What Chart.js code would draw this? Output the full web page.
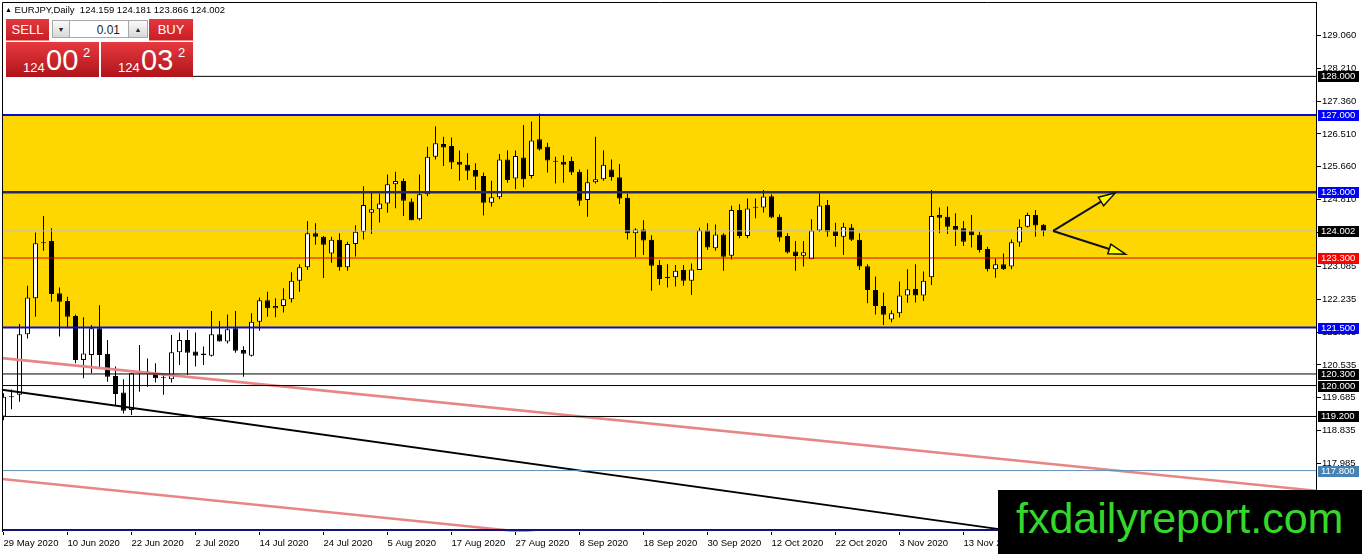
<!DOCTYPE html>
<html>
<head>
<meta charset="utf-8">
<script src="https://cdn.jsdelivr.net/npm/chart.js@4.4.0/dist/chart.umd.min.js"></script>
<style>
  html, body { margin: 0; padding: 0; background: #fff; }
  #wrap { position: relative; width: 1362px; height: 554px; overflow: hidden; font-family: "Liberation Sans", Arial, sans-serif; }
  #chart { position: absolute; left: 0; top: 0; }
  #title { position: absolute; left: 5px; top: 4px; font-size: 9.5px; color: #000; white-space: pre; line-height: 12px; }
  #title .tri { font-size: 7px; vertical-align: 1px; }
  #backdrop { position: absolute; left: 3px; top: 17px; width: 190px; height: 61px; background: #fff; }
  .btn { position: absolute; top: 19px; height: 21px; line-height: 21px; color: #fff; font-size: 13px; text-align: center;
         background: linear-gradient(#e2383d, #c81f25); border-bottom: 1px solid #f08a8d; }
  .spin { position: absolute; top: 20px; height: 18px; line-height: 18px; font-size: 7px; color: #222; text-align: center;
          background: linear-gradient(#fafafa, #d8d8d8); border: 1px solid #a8a8a8; box-sizing: border-box; }
  #lot { position: absolute; left: 70px; top: 20px; width: 58px; height: 18px; line-height: 18px; background: #fff; font-size: 12px;
         color: #222; text-align: right; padding-right: 8px; box-sizing: border-box; border-top: 1px solid #a8a8a8; border-bottom: 1px solid #a8a8a8; }
  .price { position: absolute; top: 42px; height: 35px; color: #fff; background: linear-gradient(#e63a3f, #b0131a); }
  .price .lo { position: absolute; top: 18px; font-size: 13px; }
  .price .hi { position: absolute; top: 2px; font-size: 29px; line-height: 32px; }
  .price .sup { position: absolute; top: 3px; font-size: 13px; }
  #logo { position: absolute; left: 998px; top: 490px; width: 364px; height: 64px; background: #000; color: #35d82a;
          font-size: 43px; line-height: 43px; padding: 7px 0 0 18px; box-sizing: border-box; white-space: nowrap; }
</style>
</head>
<body>
<div id="wrap">
  <canvas id="chart" width="1362" height="554"></canvas>
  <div id="title"></div>
  <div id="backdrop"></div>
  <div class="btn" style="left:6px;width:43px;">SELL</div>
  <div class="spin" style="left:52px;width:18px;">▼</div>
  <div id="lot">0.01</div>
  <div class="spin" style="left:128px;width:20px;">▲</div>
  <div class="btn" style="left:149px;width:44px;">BUY</div>
  <div class="price" id="sellPrice" style="left:6px;width:93px;"></div>
  <div class="price" id="buyPrice" style="left:101px;width:92px;"></div>
  <div id="logo">fxdailyreport.com</div>
</div>
<script>
// EURJPY daily, 29 May 2020 .. 27 Nov 2020 (one bar per trading day)
const symbolName = 'EURJPY,Daily';

const xTickBars = [0, 8, 16, 24, 32, 40, 48, 56, 64, 72, 80, 88, 96, 104, 112, 120];
const xTickLabels = ['29 May 2020', '10 Jun 2020', '22 Jun 2020', '2 Jul 2020', '14 Jul 2020', '24 Jul 2020',
    '5 Aug 2020', '17 Aug 2020', '27 Aug 2020', '8 Sep 2020', '18 Sep 2020', '30 Sep 2020',
    '12 Oct 2020', '22 Oct 2020', '3 Nov 2020', '13 Nov 2020'];
const yTickValues = [129.06, 128.21, 127.36, 126.51, 125.66, 124.81, 123.96, 123.085, 122.235,
    121.385, 120.535, 119.685, 118.835, 117.985];

const opens = [
    119.20, 119.71, 119.76, 121.33, 122.26, 123.68, 123.74, 122.39, 122.19, 121.80,
    120.66, 120.79, 121.48, 120.82, 120.25, 119.82, 119.37, 120.32, 120.36, 120.33,
    120.19, 120.16, 120.86, 121.18, 120.88, 120.79, 120.77, 121.33, 121.14, 121.48,
    120.92, 120.77, 121.65, 122.21, 122.00, 122.06, 122.23, 122.71, 123.06, 123.94,
    123.85, 123.42, 123.77, 123.06, 123.66, 123.98, 124.47, 124.56, 124.71, 125.21,
    125.29, 124.76, 124.30, 124.95, 125.92, 126.25, 126.20, 125.79, 125.71, 125.58,
    125.42, 124.73, 124.87, 125.85, 125.36, 125.90, 125.42, 126.37, 126.18, 125.80,
    125.79, 125.81, 125.53, 124.80, 125.26, 125.34, 125.59, 125.39, 124.86, 123.94,
    124.04, 123.77, 123.12, 122.79, 122.80, 122.99, 122.71, 122.99, 124.02, 123.55,
    123.91, 123.36, 124.54, 123.87, 124.60, 124.61, 124.90, 124.37, 123.87, 123.47,
    123.36, 123.27, 124.01, 124.67, 123.99, 123.85, 124.09, 123.77, 123.09, 122.47,
    122.06, 121.71, 121.87, 122.33, 122.50, 122.33, 122.80, 124.41, 124.37, 124.13,
    124.07, 123.99, 123.90, 123.53, 123.01, 123.14, 123.08, 123.70, 124.11, 124.41,
    124.159];
const highs = [
    119.80, 119.90, 121.59, 122.58, 123.96, 124.39, 124.07, 122.54, 122.30, 121.84,
    121.77, 121.57, 122.08, 121.18, 120.49, 120.16, 120.33, 121.05, 120.70, 120.58,
    120.32, 121.31, 121.37, 121.44, 121.37, 121.01, 121.93, 121.67, 121.84, 121.93,
    121.02, 121.87, 122.28, 122.43, 122.26, 122.52, 122.93, 123.14, 124.26, 124.20,
    123.87, 123.85, 123.94, 123.72, 124.15, 125.16, 125.02, 124.96, 125.46, 125.53,
    125.36, 124.84, 125.46, 126.18, 126.71, 126.44, 126.42, 126.08, 126.01, 125.75,
    125.51, 125.30, 125.99, 126.09, 126.08, 126.74, 126.83, 127.04, 126.28, 125.92,
    125.96, 125.92, 125.59, 125.59, 126.44, 126.09, 125.85, 125.73, 124.97, 124.07,
    124.28, 123.89, 123.25, 123.14, 123.12, 123.12, 123.16, 124.08, 124.20, 124.17,
    123.94, 124.65, 124.69, 124.84, 124.84, 125.06, 124.95, 124.43, 123.94, 123.74,
    123.74, 124.30, 124.97, 124.80, 124.21, 124.21, 124.18, 123.94, 123.14, 122.82,
    122.41, 121.95, 122.69, 123.01, 123.14, 122.95, 125.06, 124.61, 124.63, 124.46,
    124.26, 124.41, 123.98, 123.59, 123.29, 123.42, 123.78, 124.30, 124.47, 124.54,
    124.181];
const lows = [
    119.10, 119.39, 119.58, 121.22, 121.78, 123.49, 122.17, 121.27, 121.48, 120.58,
    120.19, 120.32, 120.45, 120.10, 119.50, 119.28, 119.24, 119.84, 119.97, 120.08,
    119.76, 120.08, 120.53, 120.27, 120.49, 120.53, 120.75, 121.14, 121.09, 120.85,
    120.23, 120.75, 121.42, 121.78, 121.77, 121.89, 122.15, 122.43, 122.99, 123.64,
    122.78, 123.18, 122.97, 122.97, 123.34, 123.78, 123.92, 124.22, 124.47, 124.59,
    124.39, 124.28, 124.27, 124.90, 125.85, 125.68, 125.60, 125.30, 125.32, 125.06,
    124.40, 124.63, 124.82, 125.25, 125.08, 125.13, 125.36, 126.08, 125.51, 125.23,
    125.25, 125.45, 124.65, 124.37, 125.23, 125.30, 125.30, 124.70, 123.78, 123.32,
    123.38, 122.45, 122.60, 122.54, 122.56, 122.58, 122.34, 122.99, 123.51, 123.49,
    122.97, 123.26, 123.81, 123.81, 124.33, 124.48, 124.33, 123.72, 123.42, 122.97,
    123.08, 123.27, 123.98, 123.85, 123.59, 123.38, 123.74, 122.99, 122.13, 121.84,
    121.57, 121.64, 121.76, 122.14, 122.15, 122.19, 122.60, 123.94, 123.92, 123.61,
    123.61, 123.57, 123.44, 122.95, 122.79, 122.99, 123.01, 123.59, 124.09, 123.85,
    123.866];
const closes = [
    119.71, 119.70, 121.33, 122.28, 123.68, 123.69, 122.37, 122.17, 121.78, 120.66,
    120.83, 121.48, 120.79, 120.23, 119.78, 119.35, 120.32, 120.36, 120.34, 120.19,
    120.19, 120.86, 121.18, 120.85, 120.77, 120.83, 121.33, 121.14, 121.46, 120.90,
    120.82, 121.65, 122.21, 122.00, 122.06, 122.23, 122.71, 123.06, 123.94, 123.85,
    123.64, 123.77, 123.06, 123.66, 123.98, 124.67, 124.56, 124.71, 125.21, 125.29,
    124.78, 124.28, 124.95, 125.92, 126.27, 126.16, 125.77, 125.71, 125.56, 125.40,
    124.73, 124.87, 125.85, 125.32, 125.94, 125.34, 126.34, 126.11, 125.82, 125.79,
    125.71, 125.51, 124.78, 125.26, 125.34, 125.71, 125.39, 124.84, 123.94, 124.04,
    123.75, 123.10, 122.76, 122.78, 122.97, 122.71, 123.00, 124.02, 123.57, 123.91,
    123.33, 124.54, 123.87, 124.58, 124.61, 124.89, 124.35, 123.83, 123.44, 123.35,
    123.45, 124.01, 124.66, 123.98, 123.87, 124.11, 123.77, 123.08, 122.47, 122.06,
    121.83, 121.87, 122.33, 122.49, 122.33, 122.71, 124.39, 124.34, 124.11, 124.03,
    123.72, 123.89, 123.51, 123.01, 123.14, 123.01, 123.71, 124.11, 124.41, 124.14,
    124.002];

const bid = 124.002;
const ask = 124.032;

// yellow zone and horizontal levels
const zoneTop = 127.0;
const zoneBottom = 121.5;
const levels = [128.0, 127.0, 125.0, 123.3, 121.5, 120.3, 120.0, 119.2, 117.8, 116.26];

// trend lines as [bar, price] end points
const trendBlack = [[-0.2, 119.89], [126, 116.24]];
const trendPinkUpper = [[-0.2, 120.71], [164.1, 117.28]];
const trendPinkLower = [[-0.2, 117.58], [68, 116.15]];

// arrows: common start, two tips
const arrowStart = [131.2, 124.0];
const arrowTips = [[139.0, 124.99], [140.25, 123.40]];

// ------- styles (kept apart from the values)
const levelStyle = {
    128: { color: '#000000', width: 1, box: '#000000' },
    127: { color: '#0a0ad8', width: 2, box: '#0000ff' },
    125: { color: '#26266c', width: 2.5, box: '#0000ff' },
    123.3: { color: '#e00000', width: 1, box: '#ff0000' },
    121.5: { color: '#0a0ad8', width: 2, box: '#0000ff' },
    120.3: { color: '#000000', width: 1, box: '#000000' },
    120: { color: '#000000', width: 1, box: '#000000' },
    119.2: { color: '#000000', width: 1, box: '#000000' },
    117.8: { color: '#5f8fb8', width: 1, box: '#4682b4' },
    116.26: { color: '#141470', width: 2, box: null }
};

const xMin = -0.1875, xMax = 164.0625;
const yMin = 116.211, yMax = 129.924;
const tickFont = { family: 'Liberation Sans', size: 9.5 };

// header text and one-click prices
document.getElementById('title').innerHTML = '<span class="tri">▲</span> ' + symbolName + '  ' +
    [opens, highs, lows, closes].map(a => a[a.length - 1].toFixed(3)).join(' ');

function fillPrice(el, price) {
    const s = price.toFixed(3);
    const lo = s.slice(0, 3), hi = s.slice(4, 6), sup = s.slice(6);
    el.innerHTML = '<span class="lo" style="left:17px">' + lo + '</span>' +
        '<span class="hi" style="left:40px">' + hi + '</span>' +
        '<span class="sup" style="left:77px">' + sup + '</span>';
}
fillPrice(document.getElementById('sellPrice'), bid);
fillPrice(document.getElementById('buyPrice'), ask);

const bars = opens.map((o, i) => i);
const isUp = i => closes[i] >= opens[i];

function hLine(v, color, width, order) {
    return {
        type: 'line', data: [{ x: -1, y: v }, { x: 170, y: v }],
        borderColor: color, borderWidth: width, pointRadius: 0, fill: false, order: order
    };
}
function segLine(pts, color, width, order) {
    return {
        type: 'line', data: pts.map(p => ({ x: p[0], y: p[1] })),
        borderColor: color, borderWidth: width, pointRadius: 0, fill: false, order: order
    };
}

const datasets = [
    {
        type: 'line', data: [{ x: -1, y: zoneTop }, { x: 170, y: zoneTop }],
        borderWidth: 0, pointRadius: 0, backgroundColor: '#ffd700',
        fill: { value: zoneBottom }, order: 20
    },
    {
        type: 'bar', data: bars.map(i => ({ x: i, y: [lows[i], highs[i]] })),
        backgroundColor: '#000', borderWidth: 0, barThickness: 1, grouped: false,
        inflateAmount: 0, order: 10
    },
    {
        type: 'bar', data: bars.map(i => ({ x: i, y: [opens[i], closes[i]] })),
        backgroundColor: ctx => isUp(ctx.dataIndex) ? '#ffffff' : '#000000',
        borderColor: '#000', borderWidth: 1, borderSkipped: false, barThickness: 5,
        minBarLength: 1, grouped: false, inflateAmount: 0, order: 9
    },
    segLine(trendPinkUpper, '#e88585', 2.5, 6),
    segLine(trendPinkLower, '#e88585', 2.5, 6),
    segLine(trendBlack, '#000000', 2, 5),
    hLine(bid, '#c0c0c0', 1, 4)
];
levels.forEach(v => {
    const st = levelStyle[v];
    datasets.push(hLine(v, st.color, st.width, 3));
});

const framePlugin = {
    id: 'frame',
    afterDatasetsDraw(chart) {
        const { ctx, chartArea: a } = chart;
        ctx.save();
        ctx.strokeStyle = '#000';
        ctx.lineWidth = 1;
        ctx.beginPath();
        ctx.moveTo(a.left + 0.5, a.bottom);
        ctx.lineTo(a.left + 0.5, a.top + 0.5);
        ctx.lineTo(a.right, a.top + 0.5);
        ctx.stroke();
        ctx.restore();
    }
};

const arrowPlugin = {
    id: 'arrows',
    afterDatasetsDraw(chart) {
        const { ctx } = chart;
        const xs = chart.scales.x, ys = chart.scales.y;
        const x0 = xs.getPixelForValue(arrowStart[0]), y0 = ys.getPixelForValue(arrowStart[1]);
        ctx.save();
        arrowTips.forEach(t => {
            const x1 = xs.getPixelForValue(t[0]), y1 = ys.getPixelForValue(t[1]);
            const ang = Math.atan2(y1 - y0, x1 - x0);
            const len = 17, half = 5;
            const bx = x1 - len * Math.cos(ang), by = y1 - len * Math.sin(ang);
            ctx.strokeStyle = '#111';
            ctx.lineWidth = 2;
            ctx.beginPath();
            ctx.moveTo(x0, y0);
            ctx.lineTo(bx, by);
            ctx.stroke();
            ctx.beginPath();
            ctx.moveTo(x1, y1);
            ctx.lineTo(bx + half * Math.sin(ang), by - half * Math.cos(ang));
            ctx.lineTo(bx - half * Math.sin(ang), by + half * Math.cos(ang));
            ctx.closePath();
            ctx.fillStyle = '#ffff00';
            ctx.fill();
            ctx.lineWidth = 1.5;
            ctx.stroke();
        });
        ctx.restore();
    }
};

const boxPlugin = {
    id: 'priceBoxes',
    afterDraw(chart) {
        const { ctx } = chart;
        const ys = chart.scales.y;
        const list = levels.filter(v => levelStyle[v].box).map(v => [v, levelStyle[v].box]);
        list.push([bid, '#000000']);
        ctx.save();
        ctx.font = '9.5px "Liberation Sans"';
        ctx.textBaseline = 'middle';
        ctx.textAlign = 'left';
        list.forEach(([v, col]) => {
            const y = Math.round(ys.getPixelForValue(v));
            ctx.fillStyle = col;
            ctx.fillRect(chart.chartArea.right + 2, y - 5, 41, 11);
            ctx.fillStyle = '#ffffff';
            ctx.fillText(v.toFixed(3), chart.chartArea.right + 5, y + 0.5);
        });
        ctx.restore();
    }
};

new Chart(document.getElementById('chart'), {
    type: 'bar',
    data: { datasets: datasets },
    options: {
        responsive: false,
        devicePixelRatio: 1,
        animation: false,
        events: [],
        layout: { padding: { left: 2, top: 2, right: 0, bottom: 0 } },
        plugins: { legend: { display: false }, tooltip: { enabled: false } },
        scales: {
            x: {
                type: 'linear', min: xMin, max: xMax, offset: false,
                grid: { drawOnChartArea: false, drawTicks: true, tickLength: 3, color: '#000', offset: false },
                border: { display: false },
                afterBuildTicks: s => { s.ticks = xTickBars.map(v => ({ value: v })); },
                afterFit: s => { s.height = 22; s.paddingLeft = 0; s.paddingRight = 0; },
                ticks: {
                    autoSkip: false, maxRotation: 0, minRotation: 0, align: 'start', padding: 3,
                    color: '#000', font: tickFont,
                    callback: v => xTickLabels[xTickBars.indexOf(v)]
                }
            },
            y: {
                position: 'right', min: yMin, max: yMax,
                grid: { drawOnChartArea: false, tickLength: 5, color: '#000' },
                border: { display: true, color: '#000', width: 1 },
                afterBuildTicks: s => { s.ticks = yTickValues.map(v => ({ value: v })); },
                afterFit: s => { s.width = 46; s.paddingTop = 0; s.paddingBottom = 0; },
                ticks: { padding: 1, color: '#000', font: tickFont, callback: v => v.toFixed(3) }
            }
        }
    },
    plugins: [framePlugin, arrowPlugin, boxPlugin]
});
</script>
</body>
</html>
